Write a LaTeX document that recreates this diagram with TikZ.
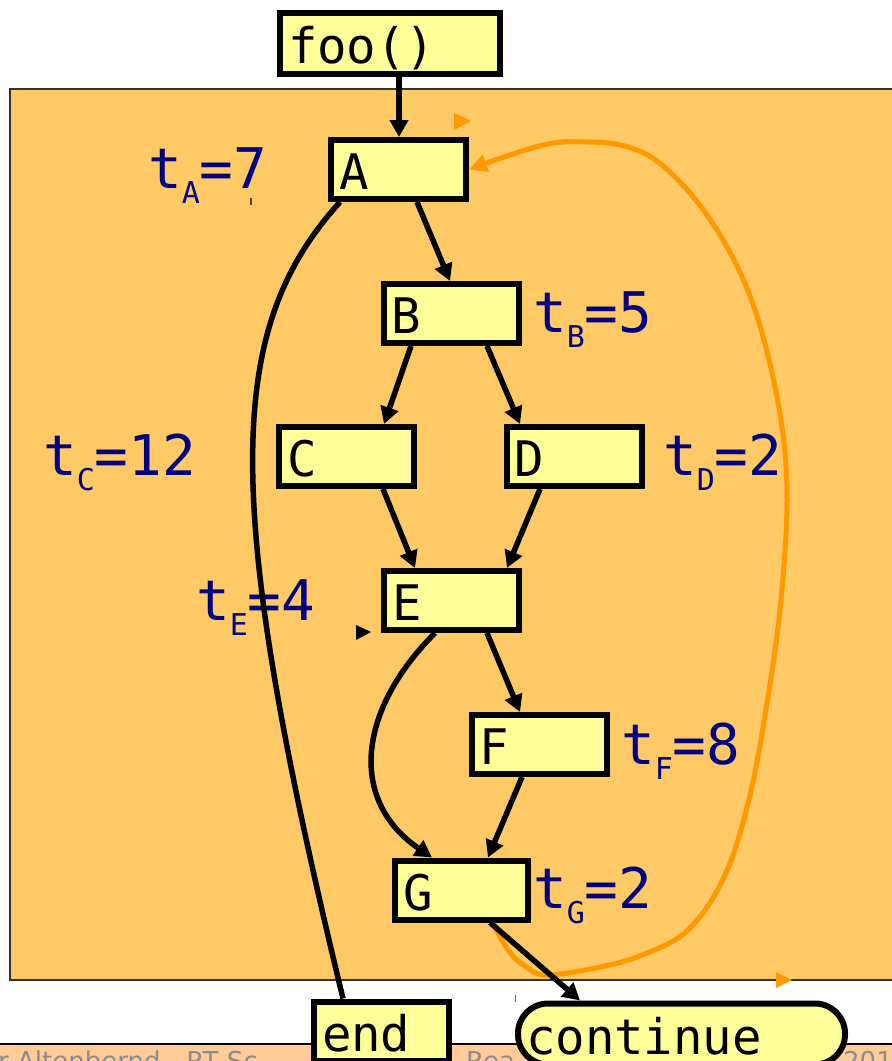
\documentclass[tikz,border=0pt]{standalone}
\usepackage{fontspec}
\setmainfont{DejaVu Sans}
\newfontfamily\monof{DejaVu Sans Mono}
\usetikzlibrary{arrows.meta}
\definecolor{bgorange}{RGB}{255,201,102}
\definecolor{peach}{RGB}{255,204,153}
\definecolor{boxyellow}{RGB}{255,255,153}
\definecolor{loopor}{RGB}{255,153,0}
\definecolor{loopedge}{RGB}{204,122,0}
\definecolor{navylbl}{RGB}{0,0,128}
\definecolor{footgray}{RGB}{140,140,140}
\newcommand\tlab[2]{t\raisebox{-15pt}{\fontsize{30}{32}\selectfont #1}=#2}
\begin{document}
\begin{tikzpicture}[x=1pt,y=-1pt,
  cfgbox/.style={draw=black, fill=boxyellow, line width=6pt, align=left,
    inner xsep=8pt, inner ysep=2pt, text height=40pt, text depth=0pt,
    text width=119pt, minimum height=59pt,
    font=\monof\fontsize{49}{56}\selectfont},
  tlabel/.style={anchor=base west, inner sep=0pt, text=navylbl,
    font=\monof\fontsize{56}{60}\selectfont},
  flow/.style={line width=5.5pt, draw=black, -{Triangle[length=17pt,width=18pt]}},
  plainflow/.style={line width=5.5pt, draw=black},
  loopedgeline/.style={line width=7pt, draw=loopedge},
  loop/.style={line width=5pt, draw=loopor, -{Triangle[length=18pt,width=17pt]}},
  foot/.style={anchor=base west, inner sep=0pt, text=footgray,
    font=\fontsize{26}{30}\selectfont}
]
\useasboundingbox (0,0) rectangle (892,1061);

% background panel and footer
\filldraw[fill=bgorange, draw=black!80, line width=1.5pt] (10,89) rectangle (905,980);
\fill[peach] (0,1045) rectangle (892,1070);
\draw[line width=1.2pt] (0,1044) -- (892,1044);
\node[foot] (ft1) at (-2,1070) {r Altenbernd - RT Sc};
\node[foot] (ft2) at (466,1070) {Rea};
\node[foot] (ft3) at (843,1070) {201};

% labels
\node[tlabel] (lA) at (148,188) {\tlab{A}{7}};
\node[tlabel] (lB) at (533,332) {\tlab{B}{5}};
\node[tlabel] (lC) at (43,475) {\tlab{C}{12}};
\node[tlabel] (lD) at (663,475) {\tlab{D}{2}};
\node[tlabel] (lE) at (196,620) {\tlab{E}{4}};
\node[tlabel] (lF) at (621,764) {\tlab{F}{8}};
\node[tlabel] (lG) at (533,908) {\tlab{G}{2}};

% boxes
\node[cfgbox, text width=204pt, minimum height=61pt] (foo) at (390,43.5) {foo()};
\node[cfgbox] (A) at (398.5,169.5) {A};
\node[cfgbox] (B) at (451,313.5) {B};
\node[cfgbox] (C) at (346.5,456.5) {C};
\node[cfgbox] (D) at (574,456.5) {D};
\node[cfgbox] (E) at (451.5,600.5) {E};
\node[cfgbox] (F) at (539,744.5) {F};
\node[cfgbox, text width=117pt] (G) at (461.5,890) {G};
\node[cfgbox] (end) at (381.5,1031) {end};
\node[cfgbox, text width=311pt, minimum height=61pt, rounded corners=30pt] (cont) at (681.5,1034) {continue};

% loop back edge
\draw[loop] plot[smooth, tension=0.6] coordinates {
  ([xshift=31.5pt,yshift=-1pt]G.south) (508,950) (525,966) (547,975) (600,967)
  (642,955) (688,930) (725,875) (750,795) (768,697) (781,600) (787,500)
  (781,420) (762,333) (738,268) (702,208) (662,165) (628,147) (590,142)
  (543,145) (A.east)};

% control-flow edges
\draw[flow] ([xshift=9pt]foo.south) -- ([xshift=0.5pt]A.north);
\draw[flow] ([xshift=18.5pt]A.south) -- ([xshift=-1pt]B.north);
\draw[flow] ([xshift=-40pt]B.south) -- ([xshift=37.5pt]C.north);
\draw[flow] ([xshift=36pt]B.south) -- ([xshift=-54pt]D.north);
\draw[flow] ([xshift=36.5pt]C.south) -- ([xshift=-36.5pt]E.north);
\draw[flow] ([xshift=-34pt]D.south) -- ([xshift=55.5pt]E.north);
\draw[flow] ([xshift=35.5pt]E.south) -- ([xshift=-19pt]F.north);
\draw[flow] ([xshift=-17pt]F.south) -- ([xshift=26.5pt]G.north);
\draw[flow] ([xshift=-16.5pt]E.south) .. controls (358,710) and (348,800) .. ([xshift=-29.5pt]G.north);
\draw[plainflow] ([xshift=-58.5pt]A.south) .. controls (224,330) and (222,500) .. ([xshift=-38.5pt]end.north);
\draw[flow] ([xshift=28.5pt]G.south) -- ([xshift=-101.5pt]cont.north);

% stray markers
\fill[loopor] (454,113) -- (471,121) -- (454,130) -- cycle;
\fill[loopor] (776,972) -- (792,980) -- (776,988) -- cycle;
\fill[black] (356,625) -- (371,632) -- (356,640) -- cycle;
\draw[black!50!brown, line width=1.5pt] (251,198) -- (251,205);
\draw[black!60, line width=1pt] (515,995) -- (515,1002);
\end{tikzpicture}
\end{document}
